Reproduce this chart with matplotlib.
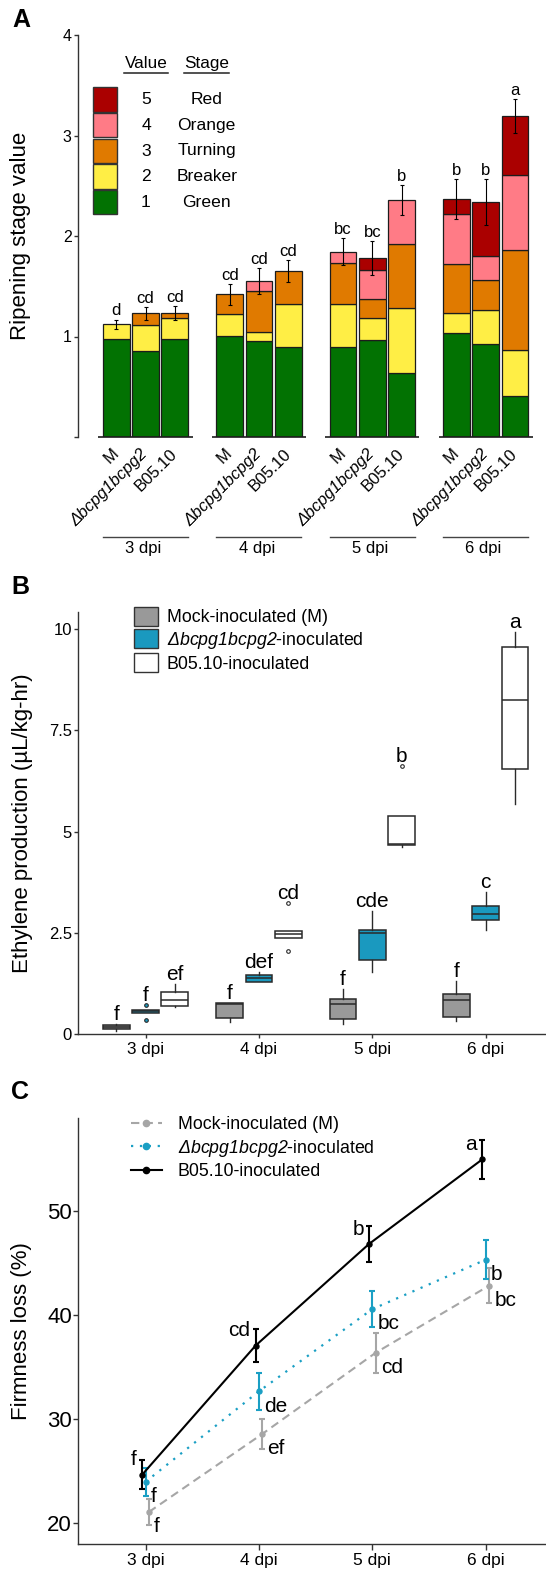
import matplotlib
matplotlib.use('Agg')
import matplotlib.pyplot as plt
import numpy as np
import matplotlib.transforms as mtransforms
from matplotlib.patches import Rectangle, Patch
from matplotlib.lines import Line2D

plt.rcParams['font.family'] = ['Liberation Sans', 'DejaVu Sans']
plt.rcParams['mathtext.fontset'] = 'custom'
plt.rcParams['mathtext.rm'] = 'Liberation Sans:italic'
plt.rcParams['mathtext.it'] = 'Liberation Sans:italic'
plt.rcParams['mathtext.default'] = 'it'

# ---------------- data ----------------
dpi_labels = ['3 dpi', '4 dpi', '5 dpi', '6 dpi']
treatments = ['M', 'Δbcpg1bcpg2', 'B05.10']

# Panel A: ripening stage composition (segment heights), order: dpi-major, treatment-minor
stage_values = [1, 2, 3, 4, 5]
stage_names = ['Green', 'Breaker', 'Turning', 'Orange', 'Red']
green_part = [0.975, 0.853, 0.980, 1.008, 0.959, 0.899, 0.899, 0.965, 0.638, 1.038, 0.926, 0.403]
breaker_part = [0.149, 0.261, 0.203, 0.215, 0.089, 0.420, 0.420, 0.222, 0.648, 0.192, 0.337, 0.463]
turning_part = [0.0, 0.116, 0.053, 0.195, 0.407, 0.331, 0.417, 0.185, 0.638, 0.492, 0.297, 0.992]
orange_part = [0.0, 0.0, 0.0, 0.0, 0.099, 0.0, 0.109, 0.294, 0.433, 0.493, 0.240, 0.750]
red_part = [0.0, 0.0, 0.0, 0.0, 0.0, 0.0, 0.0, 0.119, 0.0, 0.152, 0.540, 0.582]
ripening_se = [0.045, 0.065, 0.07, 0.10, 0.13, 0.11, 0.134, 0.17, 0.147, 0.20, 0.23, 0.17]
ripening_letters = ['d', 'cd', 'cd', 'cd', 'cd', 'cd', 'bc', 'bc', 'b', 'b', 'b', 'a']

# Panel B: ethylene production box statistics
eth_q1 = [0.115, 0.53, 0.70, 0.39, 1.29, 2.38, 0.37, 1.82, 4.67, 0.43, 2.82, 6.55]
eth_med = [0.17, 0.56, 0.84, 0.74, 1.38, 2.46, 0.74, 2.50, 4.70, 0.85, 2.96, 8.25]
eth_q3 = [0.22, 0.585, 1.03, 0.76, 1.45, 2.545, 0.86, 2.58, 5.38, 1.00, 3.16, 9.56]
eth_whislo = [0.08, 0.53, 0.66, 0.29, 1.29, 2.38, 0.25, 1.53, 4.62, 0.33, 2.58, 5.69]
eth_whishi = [0.24, 0.585, 1.23, 0.76, 1.52, 2.545, 1.12, 3.04, 5.38, 1.31, 3.50, 9.93]
eth_fliers = [[], [0.71, 0.345], [], [], [], [3.24, 2.04], [], [], [6.61], [], [], []]
eth_letters = ['f', 'f', 'ef', 'f', 'def', 'cd', 'f', 'cde', 'b', 'f', 'c', 'a']
eth_legend = ['Mock-inoculated (M)', r'$Δbcpg1bcpg2$-inoculated', 'B05.10-inoculated']

# Panel C: firmness loss
firm_mock = [21.1, 28.6, 36.4, 42.85]
firm_mock_se = [1.28, 1.45, 1.95, 1.7]
firm_delta = [24.0, 32.7, 40.6, 45.35]
firm_delta_se = [1.35, 1.75, 1.7, 1.85]
firm_b05 = [24.7, 37.1, 46.86, 55.0]
firm_b05_se = [1.37, 1.6, 1.75, 1.87]
firm_mock_letters = ['f', 'ef', 'cd', 'bc']
firm_delta_letters = ['f', 'de', 'bc', 'b']
firm_b05_letters = ['f', 'cd', 'b', 'a']
firm_legend = ['Mock-inoculated (M)', r'$Δbcpg1bcpg2$-inoculated', 'B05.10-inoculated']

# ---------------- styles / layout ----------------
W, H = 546, 1572
fig = plt.figure(figsize=(W / 100, H / 100), dpi=100)


def px_rect(l, t, r, b):
    return [l / W, 1 - b / H, (r - l) / W, (b - t) / H]


px2fig = mtransforms.Affine2D().scale(1 / W, -1 / H).translate(0, 1) + fig.transFigure

stage_colors = ['#027202', '#FFEE45', '#E07A00', '#FF7B86', '#AA0000']
box_fills = ['#999999', '#1A99BF', '#FFFFFF']
line_colors = ['#A6A6A6', '#1A9FC4', '#000000']
axis_col = '#333333'
LEFT = 77.5
UNIT = 113.4  # px per dpi unit
XMIN = 0.4
XMAX = XMIN + (W - LEFT) / UNIT
dodge = 0.258
barw = 0.235

ngrp = len(dpi_labels)
ntrt = len(treatments)
xg = np.arange(1, ngrp + 1)
xA = np.array([g + (j - 1) * dodge for g in xg for j in range(ntrt)])

# ================= Panel A =================
axA = fig.add_axes(px_rect(LEFT, 35, W, 437))
bottoms = np.zeros(len(xA))
for parts, col in zip([green_part, breaker_part, turning_part, orange_part, red_part], stage_colors):
    h = np.array(parts)
    m = h > 0
    axA.bar(xA[m], h[m], width=barw, bottom=bottoms[m], color=col,
            edgecolor='#1c1c1c', linewidth=0.9, zorder=2)
    bottoms += h
totals = bottoms
se = np.array(ripening_se)
axA.errorbar(xA, totals, yerr=se, fmt='none', ecolor='black', elinewidth=0.8,
             capsize=1.6, capthick=0.8, zorder=3)
for x, t, s, lab in zip(xA, totals, se, ripening_letters):
    axA.text(x, t + s + 0.04, lab, ha='center', va='baseline', fontsize=12)

axA.set_xlim(XMIN, XMAX)
axA.set_ylim(0, 4)
for sp in ['top', 'right', 'bottom']:
    axA.spines[sp].set_visible(False)
axA.spines['left'].set_color(axis_col)
axA.spines['left'].set_linewidth(1.0)
axA.set_yticks([0, 1, 2, 3, 4], ['', '1', '2', '3', '4'])
axA.tick_params(axis='y', length=2.9, width=1, color=axis_col, pad=1.2, labelsize=11.5)
axA.set_xticks(xA, treatments * ngrp, rotation=45, ha='right', va='center',
               rotation_mode='anchor')
axA.tick_params(axis='x', length=0, pad=10.2, labelsize=12)
for lbl in axA.get_xticklabels():
    if lbl.get_text().startswith('Δ'):
        lbl.set_fontstyle('italic')

transA = mtransforms.blended_transform_factory(axA.transData, axA.transAxes)
for g, dl in zip(xg, dpi_labels):
    axA.hlines(0, g - 0.415, g + 0.415, color='#1c1c1c', lw=1.2, clip_on=False, zorder=4)
    axA.plot([g - 0.375, g + 0.375], [-0.2495, -0.2495], transform=transA, clip_on=False,
             color='#444444', lw=1.0)
    axA.text(g - 0.02, -0.277, dl, transform=transA, ha='center', va='center', fontsize=12)

axA.set_ylabel('Ripening stage value', fontsize=16, va='center')
axA.yaxis.set_label_coords((21 - LEFT) / (W - LEFT), 0.5)

# custom legend (Value / Stage)
fig.text(146, 63.3, 'Value', transform=px2fig, ha='center', va='center', fontsize=12.3)
fig.text(206.7, 63.3, 'Stage', transform=px2fig, ha='center', va='center', fontsize=12.3)
fig.add_artist(Line2D([124.3, 167.7], [73.3, 73.3], transform=px2fig, color='#222222', lw=1.1))
fig.add_artist(Line2D([184, 229.3], [73.3, 73.3], transform=px2fig, color='#222222', lw=1.1))
for i, (val, name, col) in enumerate(zip(stage_values[::-1], stage_names[::-1], stage_colors[::-1])):
    top = 87.3 + i * 25.6
    fig.add_artist(Rectangle((92.7, top + 24.5), 24.6, -24.5, transform=px2fig,
                             facecolor=col, edgecolor='#333333', lw=1.0))
    fig.text(146, top + 12.5, str(val), transform=px2fig, ha='center', va='center', fontsize=12.6)
    fig.text(206.7, top + 12.5, name, transform=px2fig, ha='center', va='center', fontsize=12.6)

# ================= Panel B =================
axB = fig.add_axes(px_rect(LEFT, 611.6, W, 1034))
stats = []
for i in range(len(xA)):
    stats.append(dict(med=eth_med[i], q1=eth_q1[i], q3=eth_q3[i], whislo=eth_whislo[i],
                      whishi=eth_whishi[i], fliers=eth_fliers[i]))
bp = axB.bxp(stats, positions=xA, widths=barw, patch_artist=True, showcaps=False,
             boxprops=dict(edgecolor='#2a2a2a', linewidth=1.1),
             medianprops=dict(color='#2a2a2a', linewidth=1.1),
             whiskerprops=dict(color='#2a2a2a', linewidth=1.0),
             flierprops=dict(marker='o', markersize=2.6, markeredgecolor='#2a2a2a',
                             markeredgewidth=0.8))
for i, (patch, fl) in enumerate(zip(bp['boxes'], bp['fliers'])):
    patch.set_facecolor(box_fills[i % ntrt])
    fl.set_markerfacecolor(box_fills[i % ntrt])
for i, (x, lab) in enumerate(zip(xA, eth_letters)):
    top = max([eth_whishi[i]] + list(eth_fliers[i]))
    axB.text(x, top + 0.1, lab, ha='center', va='baseline', fontsize=15)

axB.set_xlim(XMIN, XMAX)
axB.set_ylim(0, 10.43)
for sp in ['top', 'right']:
    axB.spines[sp].set_visible(False)
for sp in ['left', 'bottom']:
    axB.spines[sp].set_color(axis_col)
    axB.spines[sp].set_linewidth(1.0)
axB.set_yticks([0, 2.5, 5, 7.5, 10], ['0', '2.5', '5', '7.5', '10'])
axB.set_xticks(xg, dpi_labels)
axB.tick_params(axis='y', length=2.9, width=1, color=axis_col, pad=1.2, labelsize=12)
axB.tick_params(axis='x', length=3, width=1, color=axis_col, pad=2.5, labelsize=12.3)
axB.set_ylabel('Ethylene production (µL/kg-hr)', fontsize=16, va='center')
axB.yaxis.set_label_coords((22.6 - LEFT) / (W - LEFT), 0.5)

fsB = 12.8
fspx = fsB * 100 / 72
handlesB = [Patch(facecolor=c, edgecolor='#333333', lw=1.0) for c in box_fills]
legB = axB.legend(handlesB, eth_legend, loc='upper left',
                  bbox_to_anchor=((134 - LEFT) / (W - LEFT), 1 + (611.6 - 606.7) / 422.4),
                  frameon=False, fontsize=fsB, borderpad=0, borderaxespad=0,
                  handlelength=24.4 / fspx, handleheight=23.3 / fspx,
                  labelspacing=2.4 / fspx, handletextpad=8.6 / fspx)

# ================= Panel C =================
axC = fig.add_axes(px_rect(LEFT, 1117.6, W, 1544.3))
offs = [0.029, 0.0, -0.029]
series = [(firm_mock, firm_mock_se, firm_mock_letters, (0, (4, 2.5)), 1.5),
          (firm_delta, firm_delta_se, firm_delta_letters, (0, (1, 3)), 1.6),
          (firm_b05, firm_b05_se, firm_b05_letters, '-', 1.5)]
for k, ((vals, errs, labs, ls, lw), col, off) in enumerate(zip(series, line_colors, offs)):
    xs = xg + off
    axC.errorbar(xs, vals, yerr=errs, color=col, ls=ls, lw=lw, marker='o', ms=3.6,
                 capsize=2.3, capthick=1.5, elinewidth=1.5, zorder=2 + k)
    for x, v, lab in zip(xs, vals, labs):
        if k == 2:
            axC.annotate(lab, (x, v), xytext=(-3.8, 3.8), textcoords='offset points',
                         ha='right', va='bottom', fontsize=15)
        else:
            axC.annotate(lab, (x, v), xytext=(3.8, -3.8), textcoords='offset points',
                         ha='left', va='top', fontsize=15)

axC.set_xlim(XMIN, XMAX)
axC.set_ylim(18, 59)
for sp in ['top', 'right']:
    axC.spines[sp].set_visible(False)
for sp in ['left', 'bottom']:
    axC.spines[sp].set_color(axis_col)
    axC.spines[sp].set_linewidth(1.0)
axC.set_yticks([20, 30, 40, 50])
axC.set_xticks(xg, dpi_labels)
axC.tick_params(axis='y', length=3.6, width=1, color=axis_col, pad=0.5, labelsize=16)
axC.tick_params(axis='x', length=4, width=1, color=axis_col, pad=2, labelsize=12.5)
axC.set_ylabel('Firmness loss (%)', fontsize=16, va='center')
axC.yaxis.set_label_coords((21.8 - LEFT) / (W - LEFT), 0.5)

handlesC = [Line2D([0], [0], color=col, ls=s[3], lw=s[4], marker='o', ms=4.5)
            for s, col in zip(series, line_colors)]
axC.legend(handlesC, firm_legend, loc='upper left',
           bbox_to_anchor=((130.6 - LEFT) / (W - LEFT), 1.004),
           frameon=False, fontsize=fsB, borderpad=0, borderaxespad=0,
           handlelength=31.3 / fspx, handletextpad=15.7 / fspx, labelspacing=0.27,
           numpoints=1)

# panel letters
for lab, (px, py) in zip(['A', 'B', 'C'], [(21.4, 20), (20, 587), (20, 1091.7)]):
    fig.text(px, py, lab, transform=px2fig, ha='center', va='center', fontsize=18,
             fontweight='bold')

fig.savefig('out.png', dpi=100)
